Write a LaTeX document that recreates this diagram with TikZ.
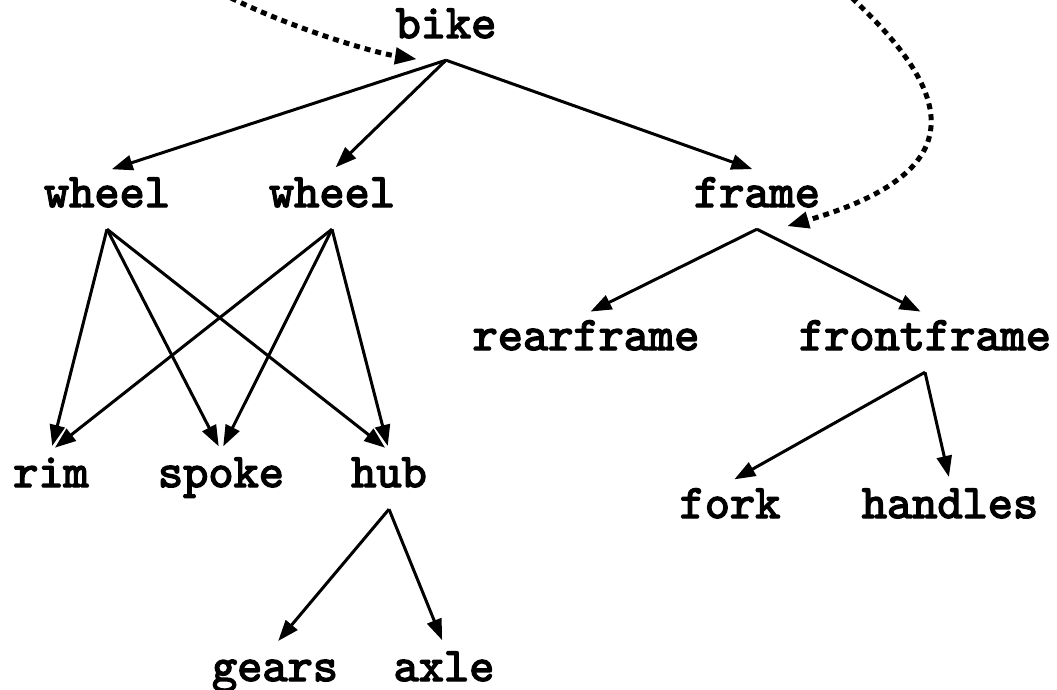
\documentclass[tikz,border=0pt]{standalone}
\usepackage{fontspec}
\newfontfamily\partfont{lmmono10-regular.otf}[FakeBold=3]
\usetikzlibrary{arrows.meta,calc}
\begin{document}
\begin{tikzpicture}[x=1pt,y=-1pt,
  part/.style={font=\partfont\fontsize{48}{48}\selectfont, anchor=base,
    text height=27pt, text depth=13pt, inner xsep=4pt, inner ysep=9pt},
  link/.style={line width=3pt, shorten >=5pt, -{Triangle[length=21pt,width=15pt]}},
  ref/.style={line width=5pt, dash pattern=on 6pt off 5pt, -{Triangle[length=22pt,width=16pt]}}]
\useasboundingbox (0,0) rectangle (1057,690);
\clip (0,0) rectangle (1057,690);
\node[part] (bike) at (446,38) {bike};
\node[part] (wheelA) at (107,207) {wheel};
\node[part] (wheelB) at (332,207) {wheel};
\node[part] (frame) at (757,207) {frame};
\node[part] (rear) at (586,350) {rearframe};
\node[part] (front) at (925,350) {frontframe};
\node[part] (rim) at (51,487) {rim};
\node[part] (spoke) at (221,487) {spoke};
\node[part] (hub) at (389,487) {hub};
\node[part] (fork) at (730,518) {fork};
\node[part] (handles) at (950,518) {handles};
\node[part] (gears) at (275,681) {gears};
\node[part] (axle) at (444,681) {axle};

\draw[link] (bike.south) -- (wheelA.north);
\draw[link] (bike.south) -- (wheelB.north);
\draw[link] (bike.south) -- (frame.north);
\draw[link] (wheelA.south) -- (rim.north);
\draw[link] (wheelA.south) -- (spoke.north);
\draw[link] (wheelA.south) -- (hub.north);
\draw[link] (wheelB.south) -- (rim.north);
\draw[link] (wheelB.south) -- (spoke.north);
\draw[link] (wheelB.south) -- (hub.north);
\draw[link] (frame.south) -- (rear.north);
\draw[link] (frame.south) -- (front.north);
\draw[link] (front.south) -- (fork.north);
\draw[link] (front.south) -- (handles.north);
\draw[link] (hub.south) -- (gears.north);
\draw[link] (hub.south) -- (axle.north);

\coordinate (inA) at (231,-2);
\coordinate (inB) at (852,-2);
\draw[ref] (inA) .. controls (290,27) and (370,52) .. ($(bike.south)+(-29,-1)$);
\draw[ref] (inB) .. controls (950,90) and (980,170) .. ($(frame.south)+(30,-3)$);
\end{tikzpicture}
\end{document}
